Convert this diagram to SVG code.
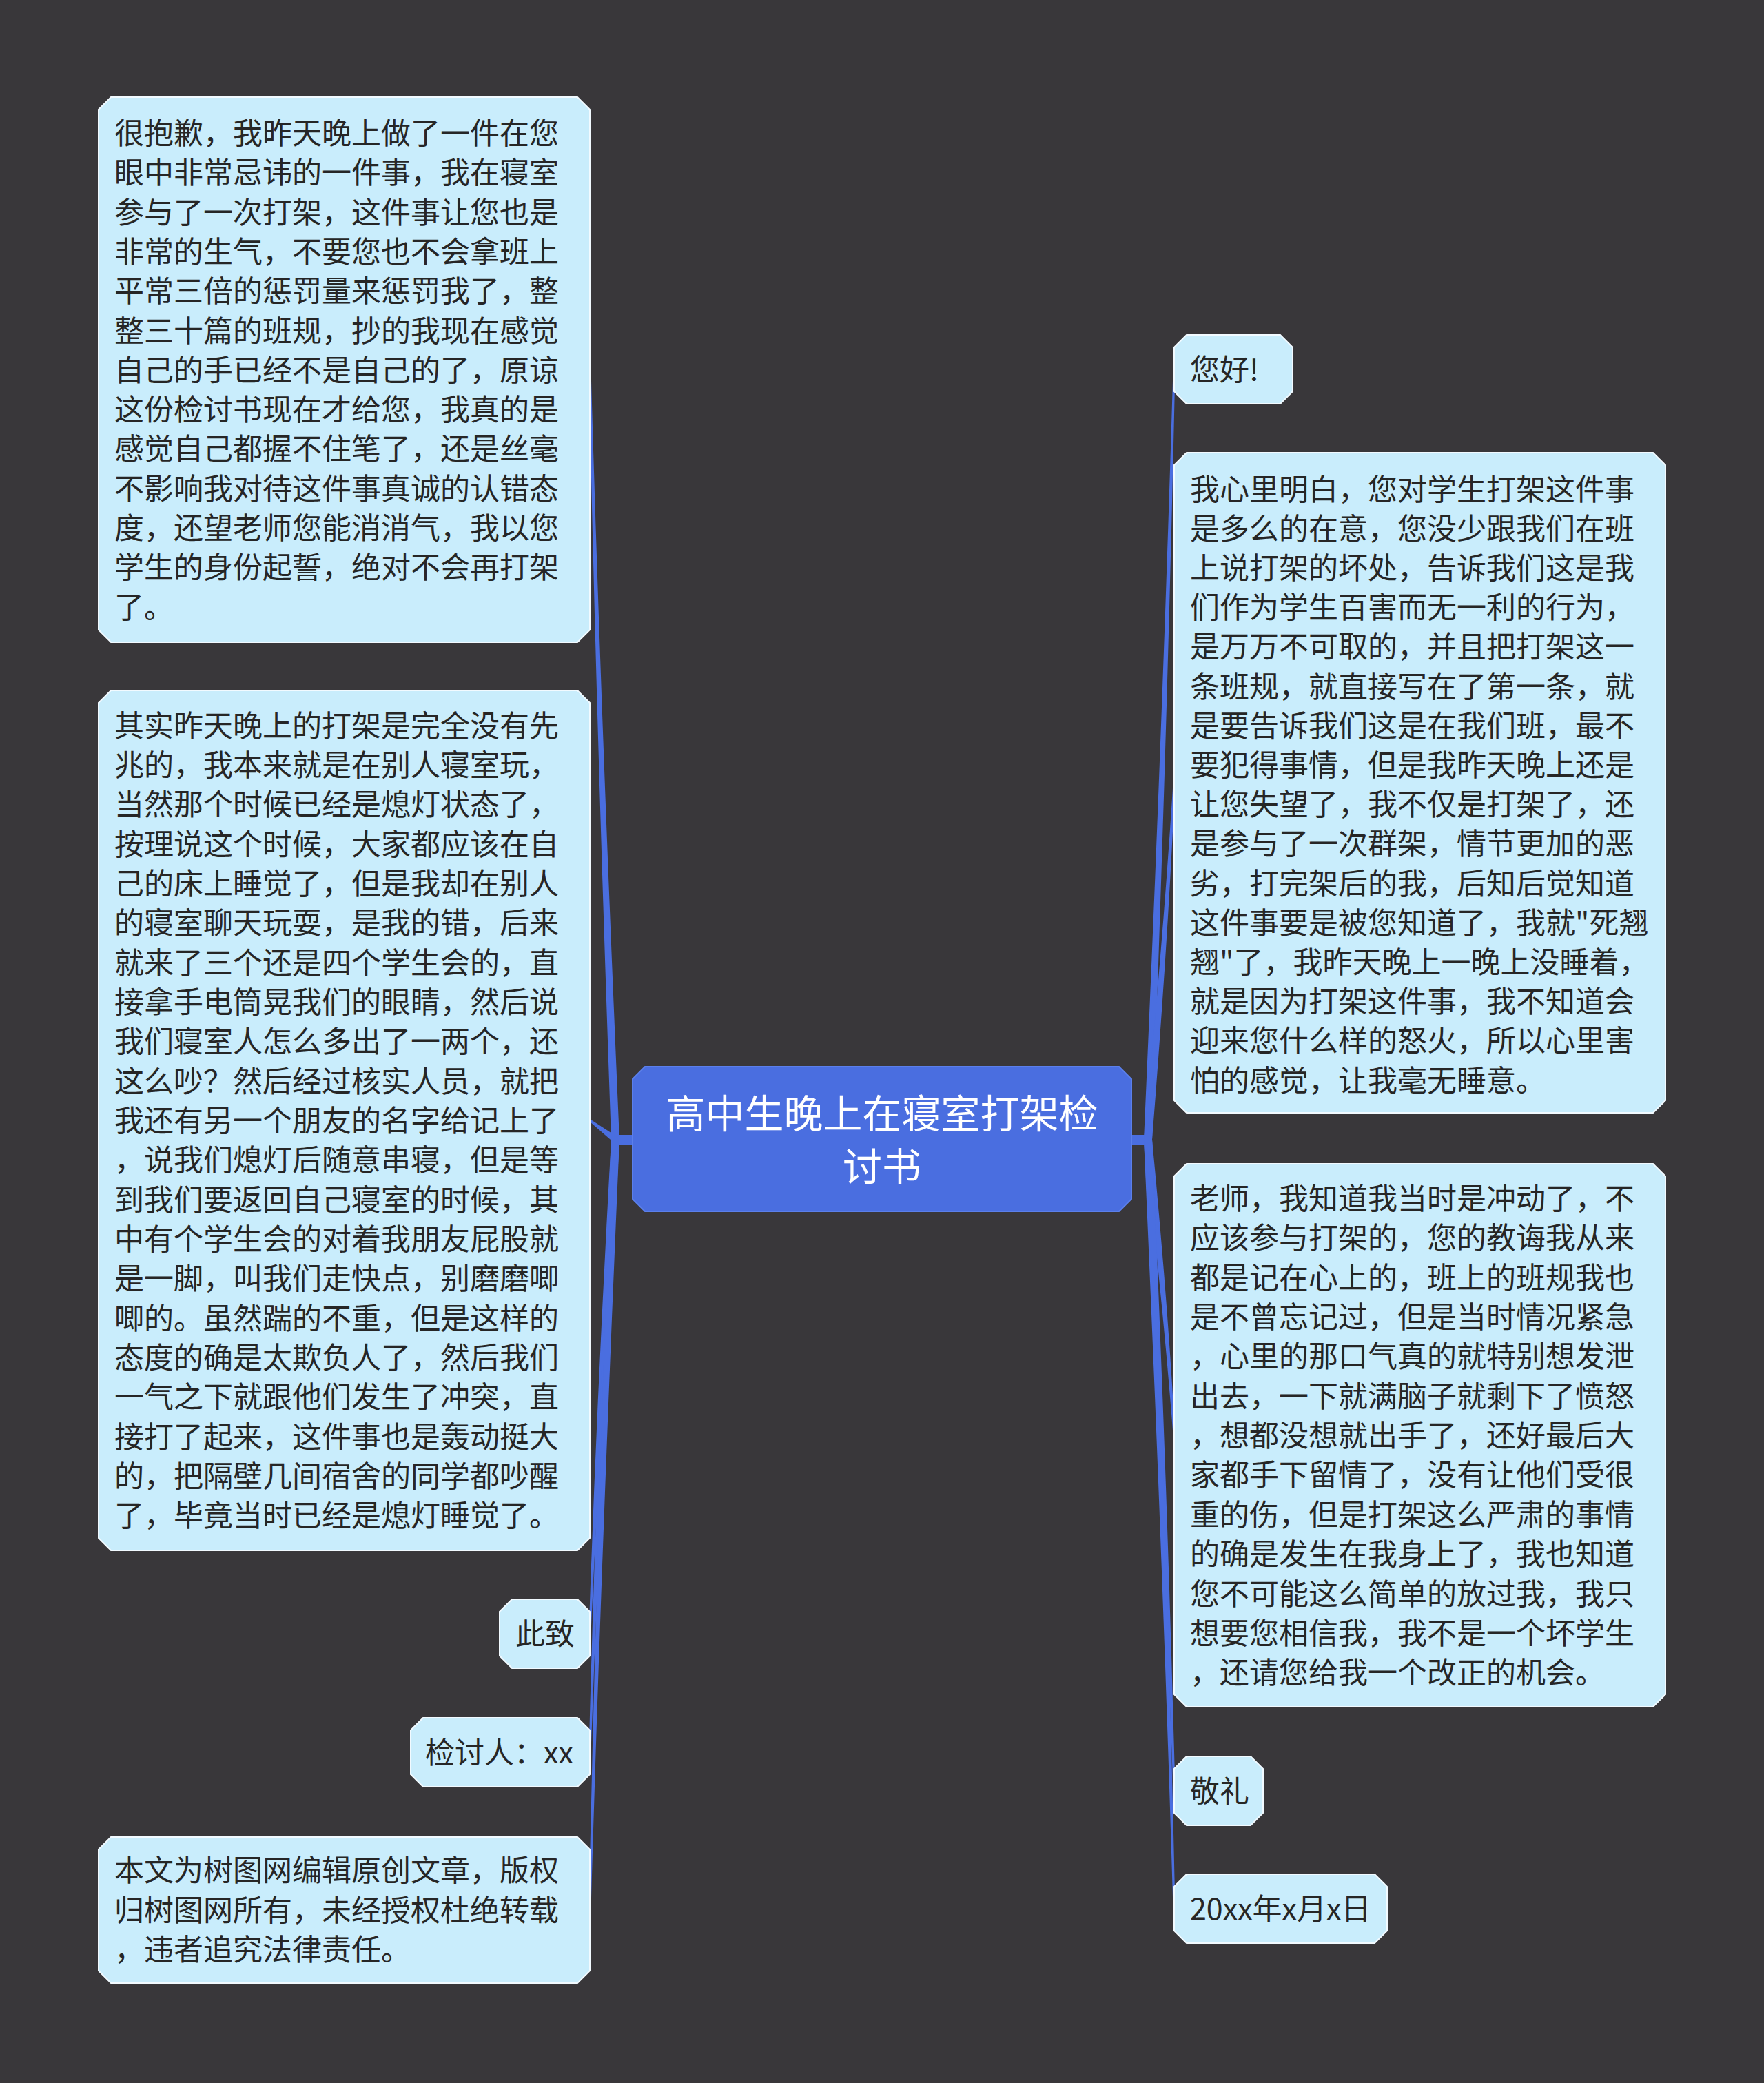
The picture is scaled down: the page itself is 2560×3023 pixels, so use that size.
<svg xmlns="http://www.w3.org/2000/svg" width="2560" height="3023" viewBox="0 0 2560 3023">
<style>
.bg{fill:#39373A}
.node{fill:#C9EDFC;stroke:#F2FAFF;stroke-width:2}
.root{fill:#4A6EE0;stroke:#5B7FEA;stroke-width:2}
.conn{fill:#4A6EE0}
.t{font-family:"Noto Sans CJK SC","Noto Sans",sans-serif;font-size:43px;fill:#262626}
.rt{font-family:"Noto Sans CJK SC","Noto Sans",sans-serif;font-size:57px;fill:#FFFFFF;text-anchor:middle}
</style>
<rect class="bg" x="0" y="0" width="2560" height="3023"/>
<g id="connectors">
<rect class="conn" x="886" y="1647" width="34" height="15"/>
<rect class="conn" x="1640" y="1647" width="32" height="15"/>
<path class="conn" d="M887 1654 C873.7 1281.3 862.3 908.7 854.5 536 L857.5 536 C868.3 908.7 882.7 1281.3 899 1654 Z"/>
<path class="conn" d="M893 1648 L856 1624 L856 1628 L893 1660 Z"/>
<path class="conn" d="M887 1654 C873.7 1893 862.3 2132 854.5 2371 L857.5 2371 C868.3 2132 882.7 1893 899 1654 Z"/>
<path class="conn" d="M887 1654 C873.7 1950.3 862.3 2246.7 854.5 2543 L857.5 2543 C868.3 2246.7 882.7 1950.3 899 1654 Z"/>
<path class="conn" d="M887 1654 C873.7 2026.7 862.3 2399.3 854.5 2772 L857.5 2772 C868.3 2399.3 882.7 2026.7 899 1654 Z"/>
<path class="conn" d="M1660 1654 C1676.7 1281.3 1691.5 908.7 1702.5 536 L1705.5 536 C1697.5 908.7 1685.7 1281.3 1672 1654 Z"/>
<path class="conn" d="M1660 1654 C1676.7 1481.3 1691.5 1308.7 1702.5 1136 L1705.5 1136 C1697.5 1308.7 1685.7 1481.3 1672 1654 Z"/>
<path class="conn" d="M1660 1654 C1676.7 1797 1691.5 1940 1702.5 2083 L1705.5 2083 C1697.5 1940 1685.7 1797 1672 1654 Z"/>
<path class="conn" d="M1660 1654 C1676.7 1969 1691.5 2284 1702.5 2599 L1705.5 2599 C1697.5 2284 1685.7 1969 1672 1654 Z"/>
<path class="conn" d="M1660 1654 C1676.7 2026 1691.5 2398 1702.5 2770 L1705.5 2770 C1697.5 2398 1685.7 2026 1672 1654 Z"/>
</g>
<g id="root">
<path class="root" d="M936 1548 H1624 L1642 1566 V1740 L1624 1758 H936 L918 1740 V1566 Z"/>
<text class="rt" x="1280" y="1637"><tspan x="1280">高中生晚上在寝室打架检</tspan><tspan x="1280" dy="77">讨书</tspan></text>
</g>
<g id="node-l1">
<path class="node" d="M161 141 H838 L856 159 V914 L838 932 H161 L143 914 V159 Z"/>
<text class="t" x="166" y="209"><tspan x="166">很抱歉，我昨天晚上做了一件在您</tspan><tspan x="166" dy="57.3">眼中非常忌讳的一件事，我在寝室</tspan><tspan x="166" dy="57.3">参与了一次打架，这件事让您也是</tspan><tspan x="166" dy="57.3">非常的生气，不要您也不会拿班上</tspan><tspan x="166" dy="57.3">平常三倍的惩罚量来惩罚我了，整</tspan><tspan x="166" dy="57.3">整三十篇的班规，抄的我现在感觉</tspan><tspan x="166" dy="57.3">自己的手已经不是自己的了，原谅</tspan><tspan x="166" dy="57.3">这份检讨书现在才给您，我真的是</tspan><tspan x="166" dy="57.3">感觉自己都握不住笔了，还是丝毫</tspan><tspan x="166" dy="57.3">不影响我对待这件事真诚的认错态</tspan><tspan x="166" dy="57.3">度，还望老师您能消消气，我以您</tspan><tspan x="166" dy="57.3">学生的身份起誓，绝对不会再打架</tspan><tspan x="166" dy="57.3">了。</tspan></text>
</g>
<g id="node-l2">
<path class="node" d="M161 1002 H838 L856 1020 V2232 L838 2250 H161 L143 2232 V1020 Z"/>
<text class="t" x="166" y="1068.5"><tspan x="166">其实昨天晚上的打架是完全没有先</tspan><tspan x="166" dy="57.35">兆的，我本来就是在别人寝室玩，</tspan><tspan x="166" dy="57.35">当然那个时候已经是熄灯状态了，</tspan><tspan x="166" dy="57.35">按理说这个时候，大家都应该在自</tspan><tspan x="166" dy="57.35">己的床上睡觉了，但是我却在别人</tspan><tspan x="166" dy="57.35">的寝室聊天玩耍，是我的错，后来</tspan><tspan x="166" dy="57.35">就来了三个还是四个学生会的，直</tspan><tspan x="166" dy="57.35">接拿手电筒晃我们的眼睛，然后说</tspan><tspan x="166" dy="57.35">我们寝室人怎么多出了一两个，还</tspan><tspan x="166" dy="57.35">这么吵？然后经过核实人员，就把</tspan><tspan x="166" dy="57.35">我还有另一个朋友的名字给记上了</tspan><tspan x="166" dy="57.35">，说我们熄灯后随意串寝，但是等</tspan><tspan x="166" dy="57.35">到我们要返回自己寝室的时候，其</tspan><tspan x="166" dy="57.35">中有个学生会的对着我朋友屁股就</tspan><tspan x="166" dy="57.35">是一脚，叫我们走快点，别磨磨唧</tspan><tspan x="166" dy="57.35">唧的。虽然踹的不重，但是这样的</tspan><tspan x="166" dy="57.35">态度的确是太欺负人了，然后我们</tspan><tspan x="166" dy="57.35">一气之下就跟他们发生了冲突，直</tspan><tspan x="166" dy="57.35">接打了起来，这件事也是轰动挺大</tspan><tspan x="166" dy="57.35">的，把隔壁几间宿舍的同学都吵醒</tspan><tspan x="166" dy="57.35">了，毕竟当时已经是熄灯睡觉了。</tspan></text>
</g>
<g id="node-l3">
<path class="node" d="M743 2321 H838 L856 2339 V2403 L838 2421 H743 L725 2403 V2339 Z"/>
<text class="t" x="748" y="2387">此致</text>
</g>
<g id="node-l4">
<path class="node" d="M614 2493 H838 L856 2511 V2575 L838 2593 H614 L596 2575 V2511 Z"/>
<text class="t" x="617" y="2559">检讨人：xx</text>
</g>
<g id="node-l5">
<path class="node" d="M161 2666 H838 L856 2684 V2860 L838 2878 H161 L143 2860 V2684 Z"/>
<text class="t" x="166" y="2730"><tspan x="166">本文为树图网编辑原创文章，版权</tspan><tspan x="166" dy="57.5">归树图网所有，未经授权杜绝转载</tspan><tspan x="166" dy="57.5">，违者追究法律责任。</tspan></text>
</g>
<g id="node-r1">
<path class="node" d="M1722 486 H1858 L1876 504 V568 L1858 586 H1722 L1704 568 V504 Z"/>
<text class="t" x="1727" y="552">您好!</text>
</g>
<g id="node-r2">
<path class="node" d="M1722 657 H2399 L2417 675 V1597 L2399 1615 H1722 L1704 1597 V675 Z"/>
<text class="t" x="1727" y="725.5"><tspan x="1727">我心里明白，您对学生打架这件事</tspan><tspan x="1727" dy="57.2">是多么的在意，您没少跟我们在班</tspan><tspan x="1727" dy="57.2">上说打架的坏处，告诉我们这是我</tspan><tspan x="1727" dy="57.2">们作为学生百害而无一利的行为，</tspan><tspan x="1727" dy="57.2">是万万不可取的，并且把打架这一</tspan><tspan x="1727" dy="57.2">条班规，就直接写在了第一条，就</tspan><tspan x="1727" dy="57.2">是要告诉我们这是在我们班，最不</tspan><tspan x="1727" dy="57.2">要犯得事情，但是我昨天晚上还是</tspan><tspan x="1727" dy="57.2">让您失望了，我不仅是打架了，还</tspan><tspan x="1727" dy="57.2">是参与了一次群架，情节更加的恶</tspan><tspan x="1727" dy="57.2">劣，打完架后的我，后知后觉知道</tspan><tspan x="1727" dy="57.2">这件事要是被您知道了，我就"死翘</tspan><tspan x="1727" dy="57.2">翘"了，我昨天晚上一晚上没睡着，</tspan><tspan x="1727" dy="57.2">就是因为打架这件事，我不知道会</tspan><tspan x="1727" dy="57.2">迎来您什么样的怒火，所以心里害</tspan><tspan x="1727" dy="57.2">怕的感觉，让我毫无睡意。</tspan></text>
</g>
<g id="node-r3">
<path class="node" d="M1722 1689 H2399 L2417 1707 V2459 L2399 2477 H1722 L1704 2459 V1707 Z"/>
<text class="t" x="1727" y="1755"><tspan x="1727">老师，我知道我当时是冲动了，不</tspan><tspan x="1727" dy="57.35">应该参与打架的，您的教诲我从来</tspan><tspan x="1727" dy="57.35">都是记在心上的，班上的班规我也</tspan><tspan x="1727" dy="57.35">是不曾忘记过，但是当时情况紧急</tspan><tspan x="1727" dy="57.35">，心里的那口气真的就特别想发泄</tspan><tspan x="1727" dy="57.35">出去，一下就满脑子就剩下了愤怒</tspan><tspan x="1727" dy="57.35">，想都没想就出手了，还好最后大</tspan><tspan x="1727" dy="57.35">家都手下留情了，没有让他们受很</tspan><tspan x="1727" dy="57.35">重的伤，但是打架这么严肃的事情</tspan><tspan x="1727" dy="57.35">的确是发生在我身上了，我也知道</tspan><tspan x="1727" dy="57.35">您不可能这么简单的放过我，我只</tspan><tspan x="1727" dy="57.35">想要您相信我，我不是一个坏学生</tspan><tspan x="1727" dy="57.35">，还请您给我一个改正的机会。</tspan></text>
</g>
<g id="node-r4">
<path class="node" d="M1722 2549 H1815 L1833 2567 V2631 L1815 2649 H1722 L1704 2631 V2567 Z"/>
<text class="t" x="1727" y="2615">敬礼</text>
</g>
<g id="node-r5">
<path class="node" d="M1722 2720 H1995 L2013 2738 V2802 L1995 2820 H1722 L1704 2802 V2738 Z"/>
<text class="t" x="1727" y="2786">20xx年x月x日</text>
</g>
</svg>
